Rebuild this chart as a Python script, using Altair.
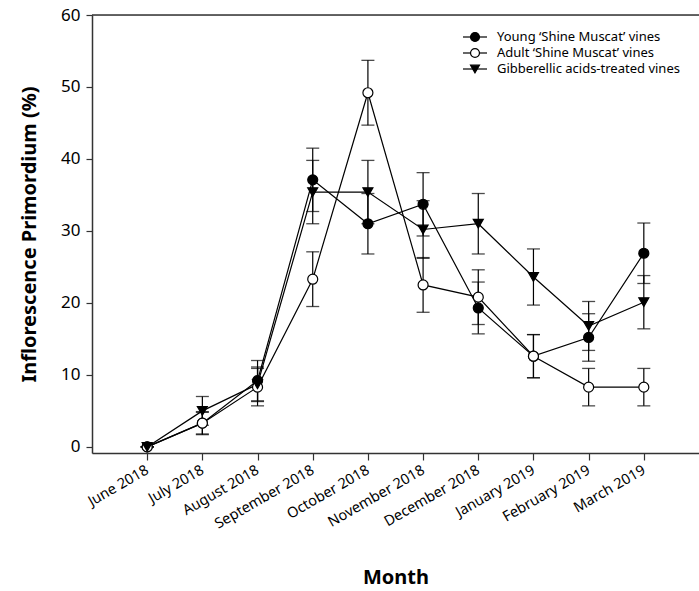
import altair as alt
import pandas as pd

months = ["June 2018", "July 2018", "August 2018", "September 2018", "October 2018",
          "November 2018", "December 2018", "January 2019", "February 2019", "March 2019"]
series = ["Young \u2018Shine Muscat\u2019 vines", "Adult \u2018Shine Muscat\u2019 vines",
          "Gibberellic acids-treated vines"]

young = [0, 3.3, 9.2, 37.1, 31.0, 33.7, 19.3, 12.6, 15.2, 26.9]
young_err = [0, 1.5, 2.8, 4.4, 4.2, 4.4, 3.6, 3.0, 3.3, 4.2]
adult = [0, 3.3, 8.3, 23.3, 49.2, 22.5, 20.8, 12.6, 8.3, 8.3]
adult_err = [0, 1.6, 2.6, 3.8, 4.5, 3.8, 3.8, 3.0, 2.6, 2.6]
ga = [0, 5.0, 8.7, 35.4, 35.4, 30.2, 31.0, 23.6, 16.8, 20.1]
ga_err = [0, 2.0, 2.4, 4.4, 4.4, 4.0, 4.2, 3.9, 3.4, 3.7]

shapes = ["circle", "circle", "triangle-down"]
fills = ["black", "white", "black"]

rows = []
for s, vals, errs in zip(series, [young, adult, ga], [young_err, adult_err, ga_err]):
    for m, v, e in zip(months, vals, errs):
        rows.append({"month": m, "series": s, "value": v, "lo": v - e, "hi": v + e})
df = pd.DataFrame(rows)

FONT = "Noto Sans"
W, H = 607, 438

x_enc = alt.X("month:N", sort=months, scale=alt.Scale(type="point", padding=1),
              axis=alt.Axis(title="Month", labelAngle=-30, labelAlign="right",
                            labelBaseline="middle", labelFontSize=14.5, labelFont=FONT,
                            titleFont=FONT, titleFontSize=20, titleFontWeight="bold",
                            titlePadding=37, tickSize=7, labelPadding=9,
                            domainColor="#333", tickColor="#333", domainWidth=1.5,
                            tickWidth=1.2, labelColor="black", titleColor="black"))
y_scale = alt.Scale(domain=[-0.85, 60], nice=False, zero=False)
y_axis = alt.Axis(title="Inflorescence Primordium (%)", values=[0, 10, 20, 30, 40, 50, 60],
                  labelFontSize=17, labelFont=FONT, titleFont=FONT, titleFontSize=20,
                  titleFontWeight="bold", titlePadding=21, tickSize=6, labelPadding=6,
                  grid=False, domainColor="#333", tickColor="#333", domainWidth=1.5,
                  tickWidth=1.2, labelColor="black", titleColor="black")

base = alt.Chart(df)

lines = base.mark_line(color="black", strokeWidth=1.2).encode(
    x=x_enc,
    y=alt.Y("value:Q", scale=y_scale, axis=y_axis),
    detail="series:N",
)

err_rule = base.mark_rule(color="black", strokeWidth=1.2).encode(
    x=alt.X("month:N", sort=months), y="lo:Q", y2="hi:Q")
cap_lo = base.mark_tick(color="black", thickness=1.3, size=13, orient="horizontal").encode(
    x=alt.X("month:N", sort=months), y="lo:Q")
cap_hi = base.mark_tick(color="black", thickness=1.3, size=13, orient="horizontal").encode(
    x=alt.X("month:N", sort=months), y="hi:Q")

points = base.mark_point(size=100, stroke="black", strokeWidth=1.2, opacity=1, filled=False).encode(
    x=alt.X("month:N", sort=months),
    y="value:Q",
    shape=alt.Shape("series:N", scale=alt.Scale(domain=series, range=shapes), legend=None),
    fill=alt.Fill("series:N", scale=alt.Scale(domain=series, range=fills), legend=None),
)

one = alt.Data(values=[{"a": 1}])
top_line = alt.Chart(one).mark_rule(color="#333", strokeWidth=1.5).encode(
    x=alt.value(0), x2=alt.value(W), y=alt.value(0))

legend_layers = []
for i, (s, shp, fc) in enumerate(zip(series, shapes, fills)):
    yy = 22 + 16 * i
    legend_layers.append(alt.Chart(one).mark_rule(color="black", strokeWidth=1.2).encode(
        x=alt.value(371), x2=alt.value(395), y=alt.value(yy)))
    legend_layers.append(alt.Chart(one).mark_point(
        shape=shp, fill=fc, stroke="black", strokeWidth=1.2, size=80, opacity=1, filled=False
    ).encode(x=alt.value(383), y=alt.value(yy)))
    legend_layers.append(alt.Chart(one).mark_text(
        align="left", baseline="middle", font=FONT, fontSize=13, color="black"
    ).encode(x=alt.value(405), y=alt.value(yy), text=alt.value(s)))

chart = alt.layer(lines, err_rule, cap_lo, cap_hi, points, top_line, *legend_layers).properties(
    width=W, height=H,
    padding={"left": 92, "top": 15, "right": 0, "bottom": 138},
    autosize=alt.AutoSizeParams(type="none"),
).configure_view(strokeWidth=0).configure(background="white")

chart.save("out.html", embed_options={"renderer": "svg", "actions": False})
